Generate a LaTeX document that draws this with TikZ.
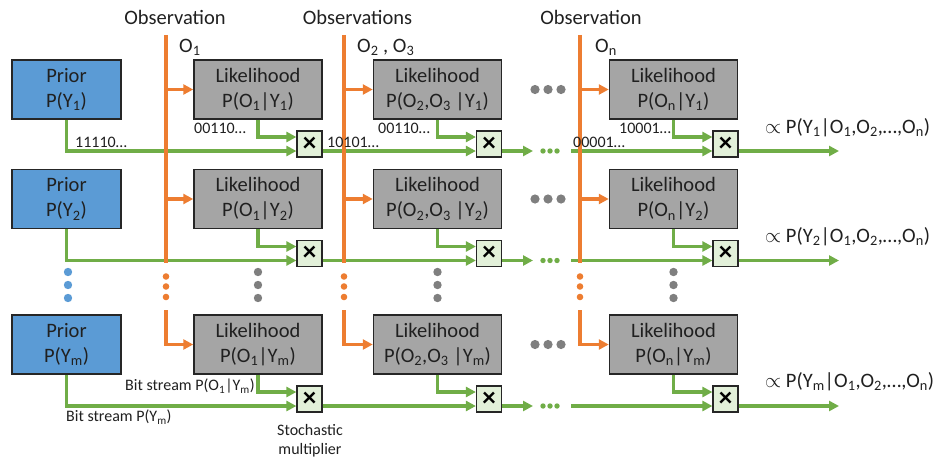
\documentclass[tikz,border=0pt]{standalone}
\usepackage{fontspec}
\setmainfont{Carlito}
\usetikzlibrary{arrows.meta,calc}
\definecolor{pblue}{HTML}{5B9BD5}
\definecolor{lgray}{HTML}{A5A5A5}
\definecolor{mgreen}{HTML}{E2F0D9}
\definecolor{agreen}{HTML}{70AD47}
\definecolor{aorange}{HTML}{ED7D31}
\definecolor{dgray}{HTML}{7F7F7F}
\definecolor{txt}{HTML}{202020}
\begin{document}
\begin{tikzpicture}[x=1pt,y=-1pt,
  priorbox/.style={draw=black!85, line width=1.5pt, fill=pblue, minimum width=109pt, minimum height=59pt, inner sep=0pt, align=center, text=txt, font=\fontsize{20.5}{25}\selectfont},
  likebox/.style={priorbox, fill=lgray, minimum width=128pt},
  multbox/.style={draw=black!85, line width=1.2pt, fill=mgreen, minimum width=25pt, minimum height=26pt, inner sep=0pt, font=\fontsize{27}{27}\selectfont\bfseries},
  garrow/.style={draw=agreen, line width=3.2pt, -{Triangle[length=10pt,width=10pt]}},
  oarrow/.style={draw=aorange, line width=3.2pt, -{Triangle[length=10pt,width=10pt]}},
  oline/.style={draw=aorange, line width=3.2pt},
  small/.style={font=\fontsize{16}{19}\selectfont, inner sep=0pt, text=txt},
  big/.style={font=\fontsize{20.5}{25}\selectfont, inner sep=0pt, text=txt},
  gdot/.style={fill=dgray},
  bdot/.style={fill=pblue},
  odot/.style={fill=aorange},
  grdot/.style={fill=agreen}]
\useasboundingbox (0,0) rectangle (933,460);

% boxes
\foreach \r/\y/\s in {1/89.5/1, 2/199/2, 3/344.5/m} {
  \node[priorbox] (p\r) at (66.5,\y) {Prior\\P(Y\textsubscript{\s})};
  \node[likebox] (l\r1) at (258,\y) {Likelihood\\P(O\textsubscript{1}|Y\textsubscript{\s})};
  \node[likebox] (l\r2) at (437.5,\y) {Likelihood\\P(O\textsubscript{2},O\textsubscript{3} |Y\textsubscript{\s})};
  \node[likebox] (l\r3) at (673.5,\y) {Likelihood\\P(O\textsubscript{n}|Y\textsubscript{\s})};
  \node[multbox] (m\r1) at (309.5,\y+54.5) {×};
  \node[multbox] (m\r2) at (489,\y+54.5) {×};
  \node[multbox] (m\r3) at (725.5,\y+54.5) {×};
  \coordinate (d\r a) at (533,\y+61.5);
  \coordinate (d\r b) at (571,\y+61.5);
  \coordinate (e\r) at (839,\y+61.5);
  % green connectors
  \draw[garrow] (p\r.south) |- ([yshift=-7pt]m\r1.west);
  \draw[garrow] (l\r1.south) |- ([yshift=7pt]m\r1.west);
  \draw[garrow] (l\r2.south) |- ([yshift=7pt]m\r2.west);
  \draw[garrow] (l\r3.south) |- ([yshift=7pt]m\r3.west);
  \draw[garrow] ([yshift=-7pt]m\r1.east) -- ([yshift=-7pt]m\r2.west);
  \draw[garrow] ([yshift=-7pt]m\r2.east) -- (d\r a);
  \draw[garrow] (d\r b) -- ([yshift=-7pt]m\r3.west);
  \draw[garrow] ([yshift=-7pt]m\r3.east) -- (e\r);
  \foreach \xx in {543,550,557} \fill[grdot] (\xx,\y+61.5) circle (2.7);
  \foreach \xx in {535,548,561} \fill[gdot] (\xx,\y) circle (4.6);
}

% vertical dots
\foreach \yy in {272,285,298} {
  \fill[bdot] (68,\yy) circle (4.2);
  \foreach \xx in {258,437.5,673.5} \fill[gdot] (\xx,\yy) circle (4.2);
}
\foreach \yy in {276.5,286.5,297} {
  \foreach \xx in {166,344,580} \fill[odot] (\xx,\yy) circle (3.3);
}

% orange observation lines
\foreach \c/\xx in {1/166, 2/344, 3/580} {
  \coordinate (ot\c) at (\xx,35);
  \coordinate (ob\c) at (\xx,263);
  \coordinate (os\c) at (\xx,310);
  \draw[oline] (ot\c) -- (ob\c);
  \draw[oarrow] (ot\c |- l1\c.west) -- (l1\c.west);
  \draw[oarrow] (ot\c |- l2\c.west) -- (l2\c.west);
  \draw[oarrow] (os\c) |- (l3\c.west);
}

% top labels
\node[big] (t1) at (175,17) {Observation};
\node[big] (t2) at (357.5,17) {Observations};
\node[big] (t3) at (591,17) {Observation};
\node[big, anchor=west] (s1) at (179,47) {O\textsubscript{1}};
\node[big, anchor=west] (s2) at (357,47) {O\textsubscript{2} , O\textsubscript{3}};
\node[big, anchor=west] (s3) at (595,47) {O\textsubscript{n}};

% bit stream labels
\node[small, anchor=west] (b1) at (75,142) {11110…};
\node[small, anchor=west] (b2) at (194,128.5) {00110…};
\node[small, anchor=west] (b3) at (327,142) {10101…};
\node[small, anchor=west] (b4) at (378,128.5) {00110…};
\node[small, anchor=west] (b5) at (573,142) {00001…};
\node[small, anchor=west] (b6) at (619,128.5) {10001…};
\node[small, anchor=west] (b7) at (125,386) {Bit stream P(O\textsubscript{1}|Y\textsubscript{m})};
\node[small, anchor=west] (b8) at (66,417) {Bit stream P(Y\textsubscript{m})};
\node[small, align=center] (sm) at (310,441) {Stochastic\\multiplier};

% result labels
\node[big, anchor=west] (r1) at (765,128) {$\propto$ P(Y\textsubscript{1}|O\textsubscript{1},O\textsubscript{2},…,O\textsubscript{n})};
\node[big, anchor=west] (r2) at (765,237) {$\propto$ P(Y\textsubscript{2}|O\textsubscript{1},O\textsubscript{2},…,O\textsubscript{n})};
\node[big, anchor=west] (r3) at (765,382) {$\propto$ P(Y\textsubscript{m}|O\textsubscript{1},O\textsubscript{2},…,O\textsubscript{n})};
\end{tikzpicture}
\end{document}
